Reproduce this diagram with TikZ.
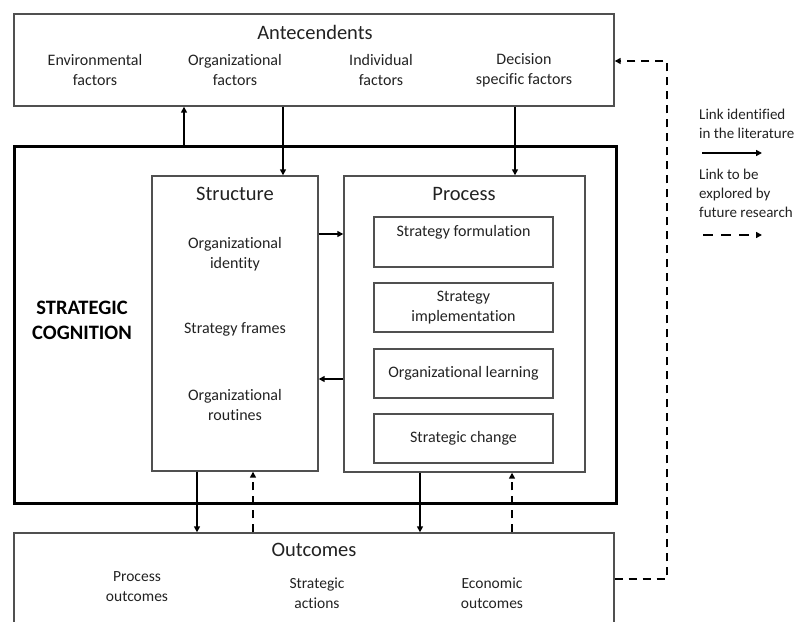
\documentclass[tikz,border=0pt]{standalone}
\usepackage{fontspec}
\setmainfont{Carlito}[Ligatures=NoCommon]
\usetikzlibrary{arrows.meta}
\definecolor{edge}{HTML}{505050}
\definecolor{ink}{HTML}{222222}
\begin{document}
\begin{tikzpicture}[x=1pt,y=-1pt,
  box/.style={draw=edge,line width=1.4pt,inner sep=0pt,rectangle},
  frame/.style={draw=black,line width=3pt,inner sep=0pt,rectangle},
  title/.style={text=ink,font=\fontsize{20.5}{25}\selectfont,inner sep=0pt},
  item/.style={text=ink,font=\fontsize{16}{20}\selectfont,align=center,inner sep=0pt},
  outitem/.style={text=ink,font=\fontsize{15.5}{20}\selectfont,align=center,inner sep=0pt},
  legend/.style={text=ink,font=\fontsize{15}{19}\selectfont,align=left,anchor=west,inner sep=0pt},
  link/.style={draw=black,line width=1.8pt,-{Triangle[length=6pt,width=6pt]}},
  future/.style={link,dash pattern=on 8pt off 6pt},
]
\useasboundingbox (0,0) rectangle (800,621);
\clip (0,0) rectangle (800,621);

% column guides for the vertical links
\coordinate (c1) at (184,0);
\coordinate (c2) at (283,0);
\coordinate (c3) at (515,0);
\coordinate (c4) at (197,0);
\coordinate (c5) at (253,0);
\coordinate (c6) at (420,0);
\coordinate (c7) at (512,0);
\coordinate (r1) at (0,234);
\coordinate (r2) at (0,379);
\coordinate (r3) at (0,61);
\coordinate (r4) at (0,579);
\coordinate (bend) at (667,0);

% main boxes
\node[box,minimum width=600pt,minimum height=92pt] (ante) at (314,60) {};
\node[frame,minimum width=602pt,minimum height=357pt] (cog) at (315,324.5) {};
\node[box,minimum width=166pt,minimum height=295pt] (struct) at (235,323.5) {};
\node[box,minimum width=241pt,minimum height=296pt] (proc) at (464.5,324) {};
\node[box,minimum width=600pt,minimum height=120pt] (outc) at (314,593) {};

% process sub-boxes
\node[box,minimum width=179pt,minimum height=50pt] (form) at (463.5,242) {};
\node[item,anchor=north] (formtxt) at (463.5,225) {Strategy formulation};
\node[box,minimum width=179pt,minimum height=49pt] (impl) at (463.5,307.5) {};
\node[item] (impltxt) at (463.5,307.5) {Strategy\\implementation};
\node[box,minimum width=179pt,minimum height=49pt] (learn) at (463.5,373.5) {};
\node[item] (learntxt) at (463.5,373.5) {Organizational learning};
\node[box,minimum width=179pt,minimum height=49pt] (chg) at (463.5,438.5) {};
\node[item] (chgtxt) at (463.5,438.5) {Strategic change};

% antecedents
\node[title] (antetitle) at (315,32) {Antecendents};
\node[item] (env) at (95,70) {Environmental\\factors};
\node[item] (org) at (235,70) {Organizational\\factors};
\node[item] (ind) at (381,70) {Individual\\factors};
\node[item] (dec) at (524,70) {Decision\\specific factors};

% strategic cognition
\node[text=black,font=\bfseries\fontsize{20.5}{25}\selectfont,align=center,inner sep=0pt] (cogtxt) at (82,320.5) {STRATEGIC\\COGNITION};

% structure
\node[title] (structtitle) at (235,194) {Structure};
\node[item] (ident) at (235,254) {Organizational\\identity};
\node[item] (frames) at (235,329) {Strategy frames};
\node[item] (rout) at (235,405) {Organizational\\routines};

% process
\node[title] (proctitle) at (464,194) {Process};

% outcomes
\node[title] (outctitle) at (314,550) {Outcomes};
\node[outitem] (pout) at (137,587) {Process\\outcomes};
\node[outitem] (sact) at (317,593) {Strategic\\actions};
\node[outitem] (eout) at (492,593) {Economic\\outcomes};

% links between antecedents and strategic cognition
\draw[link] (cog.north -| c1) -- (ante.south -| c1);
\draw[link] (ante.south -| c2) -- (struct.north -| c2);
\draw[link] (ante.south -| c3) -- (proc.north -| c3);

% links between structure and process
\draw[link] (struct.east |- r1) -- (proc.west |- r1);
\draw[link] (proc.west |- r2) -- (struct.east |- r2);

% links towards outcomes
\draw[link] (struct.south -| c4) -- (outc.north -| c4);
\draw[future] (outc.north -| c5) -- (struct.south -| c5);
\draw[link] (proc.south -| c6) -- (outc.north -| c6);
\draw[future] (outc.north -| c7) -- (proc.south -| c7);

% feedback from outcomes to antecedents
\draw[future,line width=2.2pt] (outc.east |- r4) -- (bend |- r4) -- (bend |- r3) -- (ante.east |- r3);

% legend
\node[legend] (leg1) at (699,124) {Link identified\\in the literature};
\coordinate (l1a) at (702,153);
\coordinate (l1b) at (762,153);
\draw[link] (l1a) -- (l1b);
\node[legend] (leg2) at (699,193.5) {Link to be\\explored by\\future research};
\coordinate (l2a) at (703,235);
\coordinate (l2b) at (762,235);
\draw[link,line width=2.2pt,dash pattern=on 10pt off 8pt] (l2a) -- (l2b);
\end{tikzpicture}
\end{document}
